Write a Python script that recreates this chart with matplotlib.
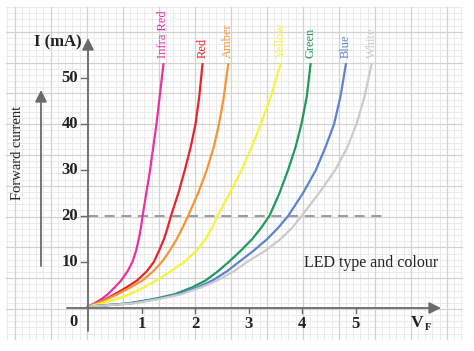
"""Forward voltage vs forward current for LED types, drawn on graph paper."""

import matplotlib

matplotlib.use("Agg")
import matplotlib.pyplot as plt
import numpy as np

# forward current levels (mA), shared by all curves
current_ma = [0.3, 1, 2, 3, 4.5, 6, 8, 10, 12.5, 15, 17.5, 20, 25, 30, 35, 40, 46, 53]

# forward voltage (V) at each current level
v_infra_red = [0.0, 0.12, 0.26, 0.37, 0.5, 0.62, 0.74, 0.83, 0.9, 0.95, 0.99, 1.02,
               1.09, 1.16, 1.22, 1.28, 1.34, 1.41]
v_red = [0.0, 0.15, 0.34, 0.5, 0.72, 0.92, 1.1, 1.23, 1.33, 1.42, 1.49, 1.55,
         1.69, 1.81, 1.92, 2.01, 2.08, 2.14]
v_amber = [0.0, 0.16, 0.37, 0.55, 0.8, 1.02, 1.22, 1.38, 1.53, 1.66, 1.77, 1.87,
           2.06, 2.22, 2.35, 2.45, 2.54, 2.62]
v_yellow = [0.0, 0.25, 0.55, 0.78, 1.05, 1.28, 1.55, 1.8, 2.03, 2.2, 2.32, 2.42,
            2.65, 2.87, 3.06, 3.23, 3.42, 3.6]
v_green = [0.0, 0.75, 1.25, 1.62, 1.95, 2.2, 2.43, 2.63, 2.86, 3.07, 3.24, 3.39,
           3.58, 3.74, 3.88, 3.99, 4.09, 4.16]
v_blue = [0.0, 0.8, 1.3, 1.68, 2.05, 2.33, 2.6, 2.82, 3.1, 3.35, 3.56, 3.74,
          4.02, 4.26, 4.44, 4.6, 4.72, 4.82]
v_white = [0.0, 0.85, 1.36, 1.75, 2.12, 2.42, 2.73, 2.97, 3.32, 3.6, 3.82, 3.99,
           4.32, 4.62, 4.85, 5.02, 5.17, 5.3]

led_names = ["Infra Red", "Red", "Amber", "Yellow", "Green", "Blue", "White"]
led_colors = ["#ec2fa4", "#e8232c", "#f79531", "#f6f43a", "#1f9a5c", "#5d82cf", "#cbcbcb"]
led_voltages = [v_infra_red, v_red, v_amber, v_yellow, v_green, v_blue, v_white]

x_ticks = [1, 2, 3, 4, 5]
y_ticks = [10, 20, 30, 40, 50]
reference_current = 20

# pixel geometry of the reference image
W, H = 474, 351
X0, Y0 = 88.0, 308.0          # pixel position of the origin
PX_PER_V, PX_PER_MA = 53.5, 4.6


def vx(px):
    return (px - X0) / PX_PER_V


def iy(py):
    return (Y0 - py) / PX_PER_MA


fig = plt.figure(figsize=(W / 100, H / 100), dpi=100)
ax = fig.add_axes([0, 0, 1, 1])
ax.set_xlim(vx(0), vx(W))
ax.set_ylim(iy(H), iy(0))
ax.axis("off")

# graph paper background
gx0, gx1, gy0, gy1 = 6, 462, 7, 339
major_c, minor_c = "#d2d2d2", "#ebebeb"
for k, px in enumerate(np.arange(14.7 - 7.2, gx1 + 0.1, 7.2)):
    if px < gx0:
        continue
    major = (k - 1) % 5 == 0
    ax.plot([vx(px)] * 2, [iy(gy0), iy(gy1)], color=major_c if major else minor_c,
            lw=0.9 if major else 0.7, zorder=0 if not major else 0.5)
for k, py in enumerate(np.arange(31.8 - 6.16 * 4, gy1 + 0.1, 6.16)):
    if py < gy0:
        continue
    major = k % 5 == 4
    ax.plot([vx(gx0), vx(gx1)], [iy(py)] * 2, color=major_c if major else minor_c,
            lw=0.9 if major else 0.7, zorder=0 if not major else 0.5)

axis_color = "#6a6a6a"
text_color = "#222222"
arrow_kw = dict(arrowstyle="-|>,head_length=0.7,head_width=0.35", color=axis_color, lw=1.3,
                shrinkA=0, shrinkB=0)
bold = dict(family="Liberation Serif", fontweight="bold", color=text_color)

# axes with arrow heads
ax.annotate("", xy=(0, iy(38)), xytext=(0, iy(331)), arrowprops=arrow_kw, zorder=3)
ax.annotate("", xy=(vx(441), 0), xytext=(vx(67), 0), arrowprops=arrow_kw, zorder=3)

for t in y_ticks:
    ax.plot([vx(81), 0], [t, t], color=axis_color, lw=1.0, zorder=3)
    ax.text(vx(78), t, str(t), ha="right", va="center", fontsize=12, **bold)
for t in x_ticks:
    ax.plot([t, t], [0, iy(313)], color=axis_color, lw=1.0, zorder=3)
    ax.text(t, iy(324), str(t), ha="center", va="center", fontsize=12, **bold)
ax.text(vx(73), iy(322), "0", ha="center", va="center", fontsize=12, **bold)

ax.text(vx(82), iy(42), "I (mA)", ha="right", va="center", fontsize=12, **bold)
ax.text(vx(417), iy(323), "V", ha="center", va="center", fontsize=12.5, **bold)
ax.text(vx(428), iy(327), "F", ha="center", va="center", fontsize=7.5, **bold)

# forward current arrow and label
ax.annotate("", xy=(vx(41), iy(90)), xytext=(vx(41), iy(266)), arrowprops=arrow_kw, zorder=3)
ax.text(vx(18), iy(153), "Forward current", rotation=90, ha="center", va="center",
        family="Liberation Serif", fontsize=10.5, color=text_color)

ax.text(vx(304), iy(263), "LED type and colour", ha="left", va="center",
        family="Liberation Serif", fontsize=11.5, color=text_color)

# 20 mA reference line
ax.plot([0, vx(386)], [reference_current, reference_current], color="#8a8a8a", lw=1.2,
        dashes=(6, 4), zorder=1)

# LED curves and their labels
for name, color, volts in zip(led_names, led_colors, led_voltages):
    ax.plot(volts, current_ma, color=color, lw=1.6, zorder=2, solid_joinstyle="round")
    ax.text(volts[-1], current_ma[-1] + 1.3, name, rotation=90, ha="center", va="bottom",
            family="Liberation Serif", fontsize=9, color=color)

fig.savefig("out.png", dpi=100)
